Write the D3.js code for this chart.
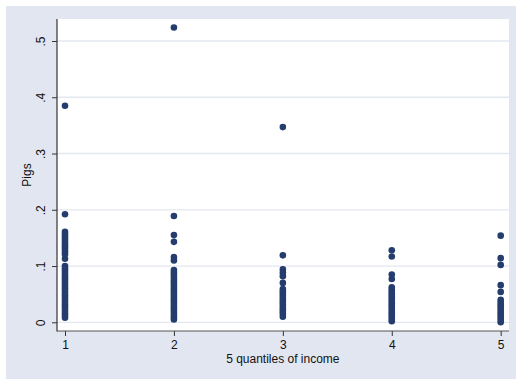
<!DOCTYPE html>
<html>
<head>
<meta charset="utf-8">
<script src="https://cdn.jsdelivr.net/npm/d3@7"></script>
<style>
  html, body { margin: 0; padding: 0; background: #ffffff; }
  svg { display: block; font-family: "Liberation Sans", Arial, sans-serif; }
</style>
</head>
<body>
<svg id="chart" width="516" height="379"></svg>
<script>
// Share of pigs by income quintile
const quantiles = [1, 2, 3, 4, 5];
const pigsQ1 = [0.385, 0.192, 0.161, 0.157, 0.153, 0.149, 0.145, 0.141, 0.137, 0.133, 0.129, 0.125, 0.121, 0.113,
  0.100, 0.096, 0.092, 0.088, 0.084, 0.080, 0.076, 0.072, 0.068, 0.064, 0.060, 0.056, 0.052, 0.048, 0.044,
  0.040, 0.036, 0.032, 0.028, 0.024, 0.020, 0.016, 0.012, 0.008];
const pigsQ2 = [0.524, 0.189, 0.155, 0.143, 0.116, 0.110,
  0.093, 0.089, 0.085, 0.081, 0.077, 0.073, 0.069, 0.065, 0.061, 0.057, 0.053, 0.049, 0.045, 0.041,
  0.037, 0.033, 0.029, 0.025, 0.021, 0.017, 0.013, 0.009, 0.005];
const pigsQ3 = [0.347, 0.119, 0.094, 0.088, 0.082, 0.070,
  0.059, 0.055, 0.051, 0.047, 0.043, 0.039, 0.035, 0.031, 0.027, 0.023, 0.019, 0.015, 0.010];
const pigsQ4 = [0.128, 0.117, 0.085, 0.077,
  0.062, 0.058, 0.054, 0.050, 0.046, 0.042, 0.038, 0.034, 0.030, 0.026, 0.022, 0.018, 0.014, 0.010, 0.006, 0.002];
const pigsQ5 = [0.154, 0.114, 0.102, 0.066, 0.054,
  0.040, 0.036, 0.032, 0.028, 0.024, 0.020, 0.016, 0.012, 0.008, 0.004, 0.000];
const yTicks = [0, 0.1, 0.2, 0.3, 0.4, 0.5];
const yTickLabels = ["0", ".1", ".2", ".3", ".4", ".5"];
const xTickLabels = ["1", "2", "3", "4", "5"];
const xTitle = "5 quantiles of income";
const yTitle = "Pigs";

const seriesByQuantile = [pigsQ1, pigsQ2, pigsQ3, pigsQ4, pigsQ5];
const points = [];
quantiles.forEach((q, i) => seriesByQuantile[i].forEach(v => points.push({ q, v })));

const svg = d3.select("#chart");
const region = { left: 57, right: 509, top: 19, bottom: 331 };

// graph background
svg.append("rect").attr("x", 6).attr("y", 6).attr("width", 510).attr("height", 373)
  .attr("fill", "#e2e6f0");
// plot region
svg.append("rect").attr("x", region.left).attr("y", region.top)
  .attr("width", region.right - region.left).attr("height", region.bottom - region.top)
  .attr("fill", "#ffffff");

const x = d3.scaleLinear().domain([1, 5]).range([65, 500.7]);
const y = d3.scaleLinear().domain([0, 0.5]).range([322.3, 41]);

// horizontal grid lines
svg.append("g").selectAll("line").data(yTicks).join("line")
  .attr("x1", region.left).attr("x2", region.right)
  .attr("y1", d => y(d)).attr("y2", d => y(d))
  .attr("stroke", "#e3e8f0").attr("stroke-width", 1.3);

// y axis
const yAxis = d3.axisLeft(y).tickValues(yTicks).tickSize(5).tickPadding(0)
  .tickFormat((d, i) => yTickLabels[i]);
const gy = svg.append("g").attr("transform", `translate(${region.left},0)`).call(yAxis);
gy.select(".domain").remove();
gy.selectAll(".tick line").attr("stroke", "#333");
gy.selectAll(".tick text")
  .attr("x", null).attr("dy", null)
  .attr("transform", `translate(-12,0) rotate(-90)`)
  .attr("text-anchor", "middle")
  .attr("font-size", 12).attr("fill", "#111")
  .attr("font-family", "Liberation Sans, Arial, sans-serif");

// x axis
const xAxis = d3.axisBottom(x).tickValues(quantiles).tickSize(5).tickPadding(4)
  .tickFormat((d, i) => xTickLabels[i]);
const gx = svg.append("g").attr("transform", `translate(0,${region.bottom})`).call(xAxis);
gx.select(".domain").remove();
gx.selectAll(".tick line").attr("stroke", "#333");
gx.selectAll(".tick text").attr("font-size", 12).attr("fill", "#111")
  .attr("font-family", "Liberation Sans, Arial, sans-serif");

// axis lines
svg.append("line").attr("x1", region.left).attr("x2", region.left)
  .attr("y1", region.top).attr("y2", region.bottom + 0.5)
  .attr("stroke", "#333").attr("stroke-width", 1.2);
svg.append("line").attr("x1", region.left).attr("x2", region.right)
  .attr("y1", region.bottom).attr("y2", region.bottom)
  .attr("stroke", "#555").attr("stroke-width", 1.2);

// markers
svg.append("g").selectAll("circle").data(points).join("circle")
  .attr("cx", d => x(d.q)).attr("cy", d => y(d.v)).attr("r", 3.3)
  .attr("fill", "#243d6e");

// titles
svg.append("text").attr("x", (x(1) + x(5)) / 2).attr("y", 362.5)
  .attr("text-anchor", "middle").attr("font-size", 12).attr("fill", "#111")
  .text(xTitle);
svg.append("text")
  .attr("transform", `translate(31,${(region.top + region.bottom) / 2}) rotate(-90)`)
  .attr("text-anchor", "middle").attr("font-size", 12).attr("fill", "#111")
  .text(yTitle);
</script>
</body>
</html>
